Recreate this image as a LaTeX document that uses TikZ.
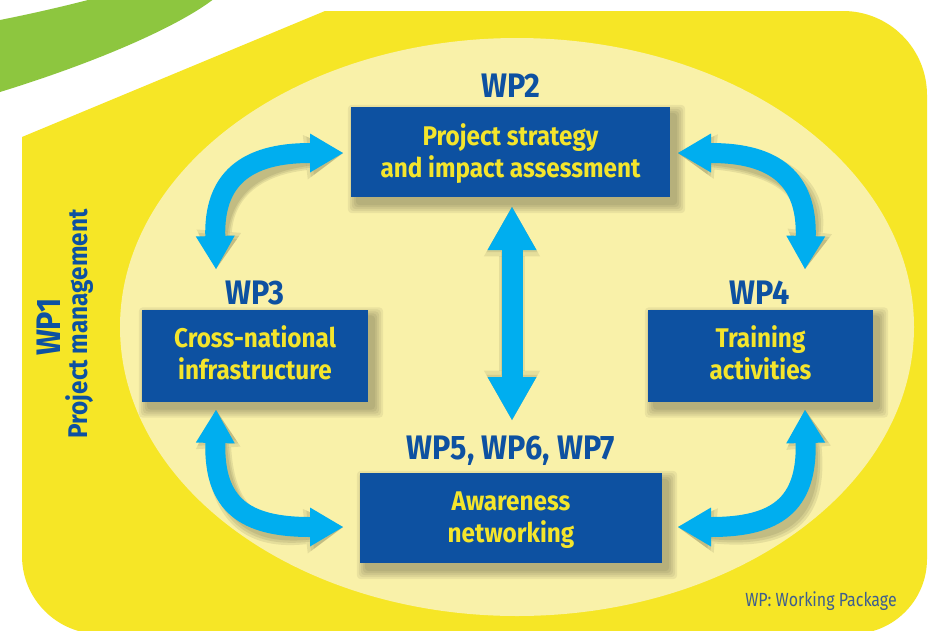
\documentclass[tikz,border=0pt]{standalone}
\usepackage{fontspec}
\setmainfont{Fira Sans}[FakeStretch=0.9]
\newfontfamily\notefont{Fira Sans}[FakeStretch=0.84]
\usetikzlibrary{arrows.meta}
\definecolor{ybright}{HTML}{F6E626}
\definecolor{ylight}{HTML}{F9F1A9}
\definecolor{lgreen}{HTML}{8DC63F}
\definecolor{bblue}{HTML}{0D51A1}
\definecolor{ytext}{HTML}{F4E52C}
\definecolor{cyanar}{HTML}{00AEEF}
\definecolor{notegray}{HTML}{3E5E8E}
\pgfdeclarelayer{back}
\pgfdeclarelayer{shade}
\pgfsetlayers{back,shade,main}
\tikzset{
  box/.style={fill=bblue, inner sep=0pt},
  boxtext/.style={text=ytext, font=\bfseries\fontsize{27}{31}\selectfont, align=center, inner sep=0pt},
  wplbl/.style={text=bblue, font=\bfseries\fontsize{34}{37}\selectfont, anchor=base, inner sep=0pt},
  fat/.style={draw=cyanar, line width=20pt, arrows={Triangle[width=39pt,length=33pt,line width=0pt]-Triangle[width=39pt,length=33pt,line width=0pt]}},
  bigfat/.style={draw=cyanar, line width=21pt, arrows={Triangle[width=49pt,length=43pt,line width=0pt]-Triangle[width=49pt,length=43pt,line width=0pt]}},
}
\begin{document}
\begin{tikzpicture}[x=1pt,y=-1pt]
\useasboundingbox (0,0) rectangle (938,630);
\begin{pgfonlayer}{back}
  \fill[white] (0,0) rectangle (938,630);
  \fill[lgreen] (0,20) .. controls (35,13) and (65,6) .. (96,-2) -- (215,-2) .. controls (185,22) and (110,58) .. (0,92) -- cycle;
  \fill[ybright] (325,11) -- (843,11) .. controls (889.4,11) and (927,48.6) .. (927,95) -- (927,559) .. controls (927,600.4) and (893.4,634) .. (852,634) -- (100,634) .. controls (57,634) and (22,599) .. (22,556) -- (22,137) -- cycle;
  \fill[ylight] (517,327) ellipse[x radius=397, y radius=289];
\end{pgfonlayer}

% boxes
\node[box, minimum width=319pt, minimum height=90pt] (wp2box) at (510.5,152) {};
\node[box, minimum width=226pt, minimum height=92pt] (wp3box) at (255,355.5) {};
\node[box, minimum width=225pt, minimum height=92pt] (wp4box) at (760.5,355.5) {};
\node[box, minimum width=302pt, minimum height=90pt] (wp5box) at (511,518) {};

% box texts
\node[boxtext] (wp2txt) at ([yshift=-3.5pt]wp2box.center) {\strut Project strategy\\and impact assessment\strut};
\node[boxtext] (wp3txt) at ([yshift=-2pt]wp3box.center) {\strut Cross-national\\infrastructure\strut};
\node[boxtext] (wp4txt) at ([yshift=-2pt]wp4box.center) {\strut Training\\activities\strut};
\node[boxtext] (wp5txt) at ([yshift=-2.5pt]wp5box.center) {\strut Awareness\\networking\strut};

% labels
\node[wplbl] (wp2lbl) at (511,97) {WP2};
\node[wplbl] (wp3lbl) at (255,304) {WP3};
\node[wplbl] (wp4lbl) at (760,304) {WP4};
\node[wplbl] (wp5lbl) at (511,459) {WP5, WP6, WP7};
\node[wplbl, rotate=90] (wp1lbl) at (60,327) {WP1};
\node[text=bblue, font=\bfseries\fontsize{27}{31}\selectfont, rotate=90, anchor=base, inner sep=0pt] (pmlbl) at (87,324) {Project management};
\node[text=notegray, font=\notefont\fontsize{19}{22}\selectfont, anchor=base, inner sep=0pt] (note) at (821,606) {WP: Working Package};

% arrow ends
\coordinate (a1) at (343,153);
\coordinate (a2) at (216,269);
\coordinate (b1) at (678,153);
\coordinate (b2) at (805,269);
\coordinate (c1) at (216,410);
\coordinate (c2) at (343,527);
\coordinate (d1) at (805,410);
\coordinate (d2) at (678,527);
\coordinate (e1) at (512,207);
\coordinate (e2) at (512,420);

% shadows
\begin{pgfonlayer}{shade}
  \foreach \b in {wp2box,wp3box,wp4box,wp5box}{
    \foreach \e in {9,7,5,3,1}{
      \fill[black, opacity=0.06, rounded corners=4pt]
        ([shift={(6-\e,7-\e)}]\b.north west) rectangle ([shift={(6+\e,7+\e)}]\b.south east);
    }
  }
  \foreach \w/\s in {26/1.15,22/1.05,18/0.95}{
    \begin{scope}[shift={(8,10)}, draw opacity=0.08, fill opacity=0.08]
      \draw[fat, draw=black, line width=\w pt, arrows={Triangle[width=39pt,length=33pt,line width=0pt,scale=\s]-Triangle[width=39pt,length=33pt,line width=0pt,scale=\s]}] (a2) .. controls (214,180) and (245,153) .. (a1);
      \draw[fat, draw=black, line width=\w pt, arrows={Triangle[width=39pt,length=33pt,line width=0pt,scale=\s]-Triangle[width=39pt,length=33pt,line width=0pt,scale=\s]}] (b2) .. controls (807,180) and (776,153) .. (b1);
      \draw[fat, draw=black, line width=\w pt, arrows={Triangle[width=39pt,length=33pt,line width=0pt,scale=\s]-Triangle[width=39pt,length=33pt,line width=0pt,scale=\s]}] (c1) .. controls (214,505) and (245,527) .. (c2);
      \draw[fat, draw=black, line width=\w pt, arrows={Triangle[width=39pt,length=33pt,line width=0pt,scale=\s]-Triangle[width=39pt,length=33pt,line width=0pt,scale=\s]}] (d1) .. controls (807,505) and (776,527) .. (d2);
      \draw[bigfat, draw=black, line width=\w pt, arrows={Triangle[width=49pt,length=43pt,line width=0pt,scale=\s]-Triangle[width=49pt,length=43pt,line width=0pt,scale=\s]}] (e1) -- (e2);
    \end{scope}
  }
\end{pgfonlayer}

% arrows
\draw[fat] (a2) .. controls (214,180) and (245,153) .. (a1);
\draw[fat] (b2) .. controls (807,180) and (776,153) .. (b1);
\draw[fat] (c1) .. controls (214,505) and (245,527) .. (c2);
\draw[fat] (d1) .. controls (807,505) and (776,527) .. (d2);
\draw[bigfat] (e1) -- (e2);
\end{tikzpicture}
\end{document}
